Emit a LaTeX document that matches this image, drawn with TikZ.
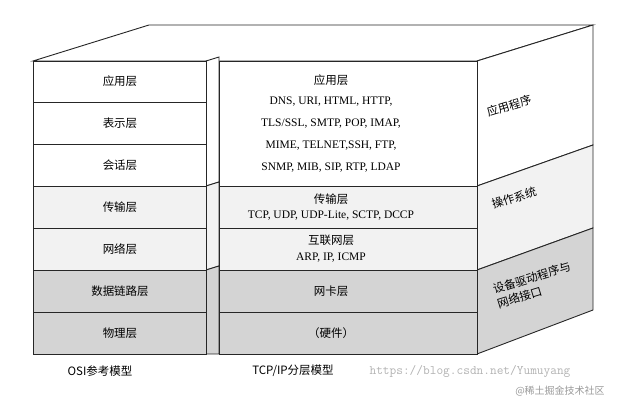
\documentclass[tikz,border=0pt]{standalone}
\usepackage{fontspec}
\setmainfont{Liberation Serif}
\newfontfamily\cjk{Noto Sans CJK SC}
\begin{document}
\begin{tikzpicture}[x=1pt,y=-1pt,
  face/.style={draw=black!85,line width=0.9pt},
  lbl/.style={font=\cjk\fontsize{11.5}{13}\selectfont,inner sep=0},
  lat/.style={font=\fontsize{11.5}{13}\selectfont,inner sep=0},
  side/.style={font=\cjk\fontsize{11.5}{15}\selectfont,rotate=17,align=left,inner sep=0}]
\useasboundingbox (0,0) rectangle (625,403);
\colorlet{lg}{black!5}
\colorlet{dg}{black!17}
% top face
\path[face,fill=white] (33,61) -- (149,25) -- (593,25) -- (477,61) -- cycle;
% right side
\path[face,fill=white] (477,61) -- (593,25) -- (593,145) -- (477,186) -- cycle;
\path[face,fill=lg] (477,186) -- (593,145) -- (593,228) -- (477,270) -- cycle;
\path[face,fill=dg] (477,270) -- (593,228) -- (593,310) -- (477,354) -- cycle;
% OSI small side
\path[face,fill=white] (206,61) -- (219,57) -- (219,182) -- (206,186) -- cycle;
\path[face,fill=lg] (206,186) -- (219,182) -- (219,266) -- (206,270) -- cycle;
\path[face,fill=dg] (206,270) -- (219,266) -- (219,354) -- (206,354) -- cycle;
% OSI layers
\foreach \t/\b/\c/\n/\s in {61/102/white/o1/应用层,102/144/white/o2/表示层,144/186/white/o3/会话层,186/228/lg/o4/传输层,228/270/lg/o5/网络层,270/312/dg/o6/数据链路层,312/354/dg/o7/物理层}{
  \path[face,fill=\c] (33,\t) rectangle (206,\b);
  \node[lbl] (\n) at (120,{(\t+\b)/2}) {\s};
}
% TCP/IP layers
\path[face,fill=white] (219,61) rectangle (477,186);
\path[face,fill=lg] (219,186) rectangle (477,228);
\path[face,fill=lg] (219,228) rectangle (477,270);
\path[face,fill=dg] (219,270) rectangle (477,312);
\path[face,fill=dg] (219,312) rectangle (477,354);
\node[lbl] (t1) at (331,80) {应用层};
\node[lat] (t2) at (331,102) {DNS, URI, HTML, HTTP,};
\node[lat] (t3) at (331,124) {TLS/SSL, SMTP, POP, IMAP,};
\node[lat] (t4) at (331,146) {MIME, TELNET,SSH, FTP,};
\node[lat] (t5) at (331,168) {SNMP, MIB, SIP, RTP, LDAP};
\node[lbl] (t6) at (331,199) {传输层};
\node[lat] (t7) at (331,216) {TCP, UDP, UDP-Lite, SCTP, DCCP};
\node[lbl] (t8) at (331,240) {互联网层};
\node[lat] (t9) at (331,258) {ARP, IP, ICMP};
\node[lbl] (t10) at (331,291) {网卡层};
\node[lbl] (t11) at (331,333) {（硬件）};
% side labels
\node[side] (s1) at (509,106) {应用程序};
\node[side] (s2) at (514,198) {操作系统};
\node[side] (s3) at (534,285) {设备驱动程序与\\网络接口};
% captions
\node[lbl] (c1) at (100,371) {OSI参考模型};
\node[lbl] (c2) at (293,371) {TCP/IP分层模型};
% watermark
\node[font=\ttfamily\fontsize{13}{14}\selectfont,text=black!30,inner sep=0] (w1) at (470,371) {https://blog.csdn.net/Yumuyang};
\node[font=\cjk\fontsize{10}{12}\selectfont,text=black!40,inner sep=0] (w2) at (560,391) {@稀土掘金技术社区};
\end{tikzpicture}
\end{document}
